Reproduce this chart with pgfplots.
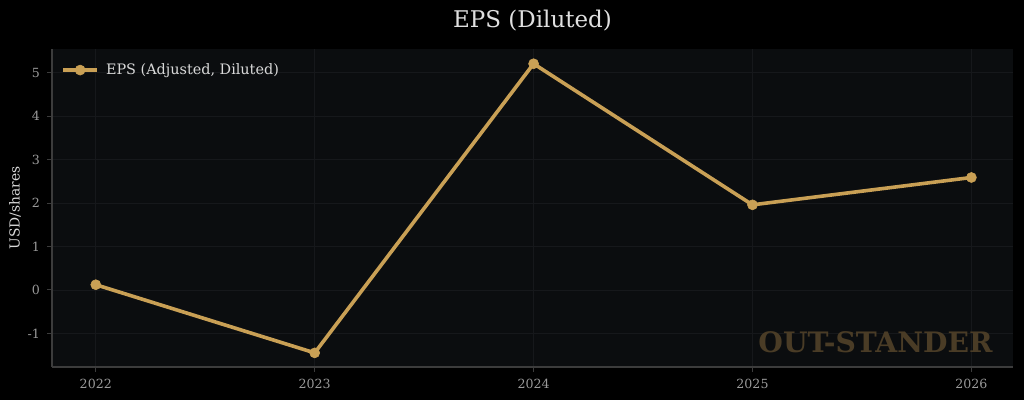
\documentclass[border=0pt]{standalone}
\usepackage{fontspec}
\setmainfont{DejaVu Serif}
\usepackage{pgfplots}
\pgfplotsset{compat=1.18}

\definecolor{figbg}{HTML}{000000}
\definecolor{axbg}{HTML}{0B0D0F}
\definecolor{gold}{HTML}{C9A055}
\definecolor{wmark}{HTML}{4A3C26}
\definecolor{ticktext}{HTML}{9A9A9A}
\definecolor{spine}{HTML}{3C3C3C}
\definecolor{gridc}{HTML}{16181B}

\begin{document}
\begin{tikzpicture}[x=0.5pt,y=0.5pt]
  % whole figure, 1024x400 px, axis box at (52..1013, 33..351) from bottom-left
  \path[use as bounding box,fill=figbg] (-52,-33) rectangle (972,367);
  \begin{axis}[
    at={(0,0)}, anchor=south west,
    scale only axis, width=480.5pt, height=159pt,
    axis background/.style={fill=axbg},
    xmin=2021.8, xmax=2026.19, ymin=-1.775, ymax=5.55,
    xtick={2022,2023,2024,2025,2026},
    xticklabels={2022,2023,2024,2025,2026},
    ytick={-1,0,1,2,3,4,5},
    yticklabels={-1,0,1,2,3,4,5},
    axis x line*=bottom, axis y line*=left,
    axis line style={spine, line width=0.6pt, -},
    tick align=outside, major tick length=2.5pt,
    tick style={spine, line width=0.5pt},
    ticklabel style={font=\fontsize{6.3}{7}\selectfont, text=ticktext},
    grid=major, major grid style={gridc, line width=0.4pt},
    title={EPS (Diluted)},
    title style={font=\fontsize{11.5}{13}\selectfont, text=white!88!black, yshift=-0.5pt},
    ylabel={USD/shares},
    ylabel style={font=\fontsize{6.9}{8}\selectfont, text=white!85!black, yshift=-3.5pt},
    legend style={at={(0.003,0.982)}, anchor=north west, draw=none, fill=none,
      text=white!85!black, font=\fontsize{7.2}{8}\selectfont,
      legend cell align=left},
  ]
    \addplot[gold, line width=1.8pt, mark=*, mark size=2.5pt,
      mark options={fill=gold, draw=gold, line width=0.3pt}] coordinates {
      (2022,0.12) (2023,-1.45) (2024,5.21) (2025,1.96) (2026,2.59)
    };
    \addlegendentry{\hspace{1.5pt}EPS (Adjusted, Diluted)}
    \node[anchor=base east, text=wmark, font=\fontsize{14.1}{17}\bfseries\selectfont]
      at (rel axis cs:0.986,0.047) {OUT-STANDER};
  \end{axis}
\end{tikzpicture}
\end{document}
